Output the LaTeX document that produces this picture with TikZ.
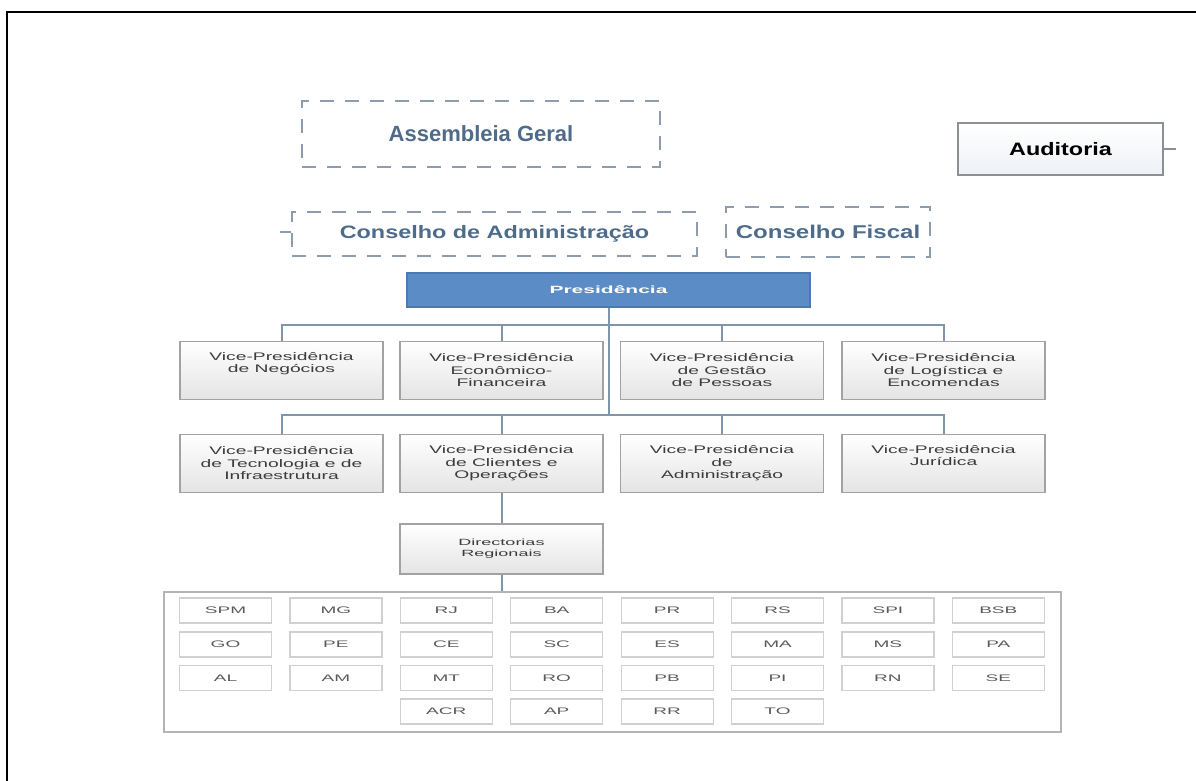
\documentclass[tikz,border=0pt]{standalone}
\usepackage{fontspec}
\setmainfont{Liberation Sans}
% widened faces for the labels
\newfontfamily\midwide[FakeStretch=1.3]{Liberation Sans}
\newfontfamily\unitwide[FakeStretch=1.75]{Liberation Sans}
\newfontfamily\extrawide[FakeStretch=2.0]{Liberation Sans}

\definecolor{dashc}{HTML}{8E9DAD}
\definecolor{titlec}{HTML}{4E6C8A}
\definecolor{presfill}{HTML}{5B8CC6}
\definecolor{presline}{HTML}{4A7AB3}
\definecolor{connc}{HTML}{7F95A9}
\definecolor{boxline}{HTML}{A2A2A2}
\definecolor{boxfill}{HTML}{E4E4E4}
\definecolor{unittext}{HTML}{3C3C3C}
\definecolor{cellline}{HTML}{D0D0D0}
\definecolor{celltext}{HTML}{5A5A5A}
\definecolor{audfill}{HTML}{EEF1F5}
\definecolor{audline}{HTML}{8C9096}
\definecolor{gridline}{HTML}{B4B4B4}

\tikzset{
  frameline/.style={draw=black, line width=2pt},
  dashbox/.style={draw=dashc, line width=1.8pt, dash pattern=on 14pt off 11pt,
    inner sep=0pt, text=titlec},
  conn/.style={draw=connc, line width=2pt},
  unitbox/.style={draw=boxline, line width=1.5pt, top color=white,
    bottom color=boxfill, minimum width=203pt, minimum height=58pt,
    inner sep=0pt, align=center, text=unittext,
    font=\unitwide\fontsize{11}{12.5}\selectfont},
  presbox/.style={draw=presline, line width=1.2pt, fill=presfill,
    minimum width=403pt, minimum height=34pt, inner sep=0pt, text=white,
    font=\extrawide\bfseries\fontsize{10.5}{12}\selectfont},
  audbox/.style={draw=audline, line width=1.5pt, top color=white,
    bottom color=audfill, minimum width=205pt, minimum height=52pt,
    inner sep=0pt, font=\midwide\bfseries\fontsize{18}{20}\selectfont},
  gridbox/.style={draw=gridline, line width=1.6pt, fill=white,
    minimum width=897pt, minimum height=140pt, inner sep=0pt},
  cell/.style={draw=cellline, line width=1.2pt, fill=white,
    minimum width=92pt, minimum height=25pt, inner sep=0pt, text=celltext,
    font=\extrawide\fontsize{9.5}{11}\selectfont},
}

\begin{document}
\begin{tikzpicture}[x=1pt,y=-1pt]
\useasboundingbox (0,0) rectangle (1196,781);

% page frame (top and left edges)
\coordinate (fbl) at (7,781);
\coordinate (ftl) at (7,12);
\coordinate (ftr) at (1196,12);
\draw[frameline] (fbl) -- (ftl) -- (ftr);

% governing bodies
\node[dashbox, minimum width=358pt, minimum height=66pt,
  font=\bfseries\fontsize{22}{24}\selectfont] (ag) at (481,134) {Assembleia Geral};
\node[dashbox, minimum width=405pt, minimum height=44pt,
  font=\midwide\bfseries\fontsize{18}{20}\selectfont] (cda) at (494.5,234) {Conselho de Administração};
\node[dashbox, minimum width=204pt, minimum height=50pt,
  font=\midwide\bfseries\fontsize{18.5}{20}\selectfont] (cf) at (828,232) {Conselho Fiscal};
\node[audbox] (aud) at (1060.5,149) {Auditoria};

\coordinate (cdastub) at (280,232);
\draw[draw=dashc, line width=1.8pt] (cdastub) -- (cda.west |- cdastub);
\coordinate (audstub) at (1176,149);
\draw[draw=audline, line width=1.5pt] (aud.east) -- (audstub);

% presidency
\node[presbox] (pres) at (608.5,290) {Presidência};

% vice-presidencies, first row
\node[unitbox] (vp1) at (281.5,370.5) {Vice-Presidência\\de Negócios\\\strut};
\node[unitbox] (vp2) at (501.5,370.5) {Vice-Presidência\\Econômico-\\Financeira};
\node[unitbox] (vp3) at (722,370.5) {Vice-Presidência\\de Gestão\\de Pessoas};
\node[unitbox] (vp4) at (943.5,370.5) {Vice-Presidência\\de Logística e\\Encomendas};

% vice-presidencies, second row
\node[unitbox] (vp5) at (281.5,463.5) {Vice-Presidência\\de Tecnologia e de\\Infraestrutura};
\node[unitbox] (vp6) at (501.5,463.5) {Vice-Presidência\\de Clientes e\\Operações};
\node[unitbox] (vp7) at (722,463.5) {Vice-Presidência\\de\\Administração};
\node[unitbox] (vp8) at (943.5,463.5) {Vice-Presidência\\Jurídica\\\strut};

% regional directorates
\node[unitbox, minimum height=50pt,
  font=\extrawide\fontsize{9}{11}\selectfont] (dir) at (501.5,549) {Directorias\\Regionais};

\node[gridbox] (regions) at (612.5,662) {};
\foreach \lab [count=\i from 0] in {SPM,MG,RJ,BA,PR,RS,SPI,BSB}
  \node[cell] (ra\i) at (225.5+110.4*\i,610.5) {\lab};
\foreach \lab [count=\i from 0] in {GO,PE,CE,SC,ES,MA,MS,PA}
  \node[cell] (rb\i) at (225.5+110.4*\i,644.5) {\lab};
\foreach \lab [count=\i from 0] in {AL,AM,MT,RO,PB,PI,RN,SE}
  \node[cell] (rc\i) at (225.5+110.4*\i,678) {\lab};
\foreach \lab [count=\i from 2] in {ACR,AP,RR,TO}
  \node[cell] (rd\i) at (225.5+110.4*\i,711.5) {\lab};

% connectors
\coordinate (busa) at (0,325);
\coordinate (busb) at (0,415);
\draw[conn] (pres.south) -- (pres.south |- busb);
\draw[conn] (vp1.north) -- (vp1.north |- busa) -- (vp4.north |- busa) -- (vp4.north);
\draw[conn] (vp2.north) -- (vp2.north |- busa);
\draw[conn] (vp3.north) -- (vp3.north |- busa);
\draw[conn] (vp5.north) -- (vp5.north |- busb) -- (vp8.north |- busb) -- (vp8.north);
\draw[conn] (vp6.north) -- (vp6.north |- busb);
\draw[conn] (vp7.north) -- (vp7.north |- busb);
\draw[conn] (vp6.south) -- (dir.north);
\draw[conn] (dir.south) -- (dir.south |- regions.north);
\end{tikzpicture}
\end{document}
